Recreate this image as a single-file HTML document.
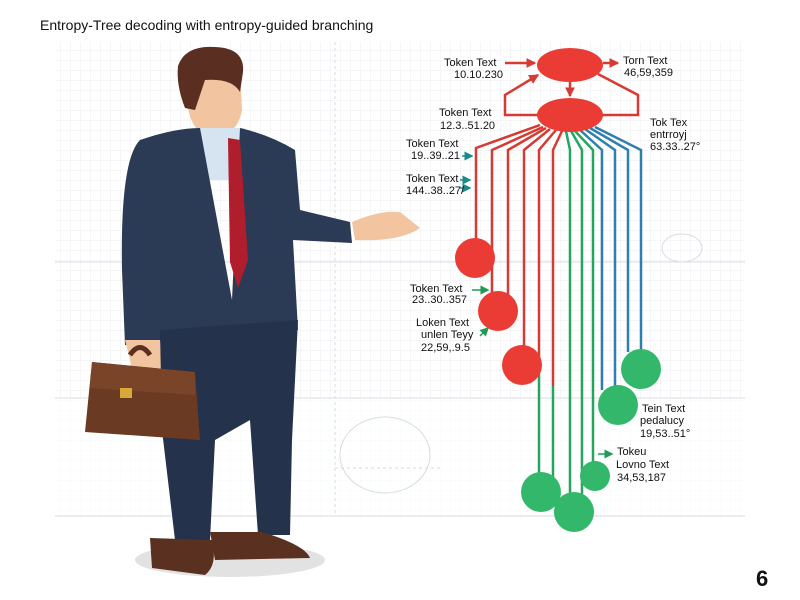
<!DOCTYPE html>
<html><head><meta charset="utf-8"><style>
html,body{margin:0;padding:0;background:#fff;width:800px;height:600px;overflow:hidden}
svg{display:block}
text{font-family:"Liberation Sans",sans-serif;fill:#111}
</style></head><body>
<svg width="800" height="600" viewBox="0 0 800 600" xmlns="http://www.w3.org/2000/svg">
<defs>
<pattern id="g" width="10" height="10" patternUnits="userSpaceOnUse"><path d="M10 0H0V10" fill="none" stroke="#eceef1" stroke-width="1"/></pattern>
<marker id="ar" markerWidth="4" markerHeight="4" refX="3.5" refY="2" orient="auto"><path d="M0 0L4 2L0 4z" fill="#d63a32"/></marker>
<marker id="ag" markerWidth="6" markerHeight="6" refX="5" refY="3" orient="auto"><path d="M0 0L6 3L0 6z" fill="#1f9a57"/></marker>
<marker id="at" markerWidth="6" markerHeight="6" refX="5" refY="3" orient="auto"><path d="M0 0L6 3L0 6z" fill="#1b8a8a"/></marker>
</defs>
<rect x="55" y="42" width="690" height="475" fill="url(#g)"/>
<rect x="55" y="398" width="690" height="118" fill="#fff" opacity="0.6"/>
<g stroke="#d8dbe0" fill="none" stroke-width="1">
<line x1="55" y1="398" x2="745" y2="398"/><line x1="55" y1="516" x2="745" y2="516"/>
<line x1="55" y1="262" x2="745" y2="262"/><line x1="335" y1="42" x2="335" y2="516" stroke-dasharray="3 3"/>
<ellipse cx="385" cy="455" rx="45" ry="38"/><line x1="335" y1="468" x2="440" y2="468" stroke-dasharray="3 3"/>
<ellipse cx="682" cy="248" rx="20" ry="14"/>
</g>
<text x="40" y="30" font-size="14">Entropy-Tree decoding with entropy-guided branching</text>
<text x="756" y="586" font-size="22" font-weight="bold">6</text>

<!-- man -->
<ellipse cx="230" cy="560" rx="95" ry="17" fill="#e2e2e2"/>
<path d="M190 70 Q215 72 240 72 L242 110 Q238 135 212 140 Q192 132 188 108 Z" fill="#f2c4a0"/>
<path d="M178 66 Q185 45 215 47 Q245 48 243 72 L240 92 Q232 78 205 80 L195 110 L185 108 Q176 85 178 66 Z" fill="#5a2f22"/>
<path d="M200 128 L245 128 L255 180 L205 180 Z" fill="#d6e3f0"/>
<path d="M140 140 Q175 128 200 128 L232 300 L240 128 Q270 135 295 150 L300 210 L350 222 L352 243 L293 240 L298 330 L170 335 L160 345 L125 345 L122 270 Q120 160 140 140 Z" fill="#2b3a55"/>
<path d="M228 138 L240 140 L248 260 L238 288 L230 262 Z" fill="#b01e2d"/>
<path d="M352 222 Q380 210 400 212 L420 228 Q400 242 355 240 Z" fill="#f2c4a0"/>
<path d="M125 340 L160 340 L165 375 L135 380 Z" fill="#f2c4a0"/>
<path d="M160 330 L298 320 L292 440 L290 535 L258 535 L250 420 L215 440 L210 540 L175 540 L162 430 Z" fill="#25324c"/>
<path d="M130 355 Q140 340 150 355" stroke="#5a3020" stroke-width="5" fill="none"/>
<path d="M92 362 L195 372 L200 440 L85 432 Z" fill="#6b3a22"/>
<path d="M92 362 L195 372 L195 395 L90 388 Z" fill="#7a4428"/>
<rect x="120" y="388" width="12" height="10" fill="#d8a838"/>
<path d="M150 538 L212 540 Q218 565 205 575 L152 568 Z" fill="#5a3020"/>
<path d="M210 532 L262 532 Q305 545 310 558 L215 560 Z" fill="#5a3020"/>

<!-- diagram -->
<g fill="none" stroke-width="2.5">
<g stroke="#d63a32">
<line x1="505" y1="63" x2="535" y2="63" marker-end="url(#ar)"/>
<line x1="603" y1="63" x2="618" y2="63" marker-end="url(#ar)"/>
<line x1="570" y1="82" x2="570" y2="96" marker-end="url(#ar)"/>
<path d="M538 115 L505 115 L505 95 L538 75" marker-end="url(#ar)"/>
<path d="M602 115 L638 115 L638 95 L598 74"/>
<path d="M540 125 L476 148 L476 240"/>
<path d="M543 127 L492 150 L492 293"/>
<path d="M546 128 L508 150 L508 297"/>
<path d="M550 129 L524 150 L524 346"/>
<path d="M556 130 L539 150 L539 360"/>
<path d="M562 131 L553 150 L553 386"/>
</g>
<g stroke="#25a55f">
<line x1="539" y1="360" x2="539" y2="475"/>
<line x1="553" y1="386" x2="553" y2="480"/>
<path d="M566 131 L570 150 L570 495"/>
<path d="M571 131 L582 150 L582 495"/>
<path d="M575 131 L593 150 L593 464"/>
</g>
<g stroke="#2e7fae">
<path d="M580 130 L602 150 L602 390"/>
<path d="M585 129 L615 150 L615 388"/>
<path d="M590 128 L628 150 L628 352"/>
<path d="M595 127 L641 150 L641 352"/>
</g>
<g stroke-width="1.5">
<line x1="462" y1="156" x2="472" y2="156" stroke="#1b8a8a" marker-end="url(#at)"/>
<line x1="460" y1="180" x2="470" y2="180" stroke="#1b8a8a" marker-end="url(#at)"/>
<line x1="460" y1="188" x2="470" y2="188" stroke="#1b8a8a" marker-end="url(#at)"/>
<line x1="472" y1="290" x2="488" y2="290" stroke="#1f9a57" marker-end="url(#ag)"/>
<line x1="480" y1="336" x2="488" y2="328" stroke="#1f9a57" marker-end="url(#ag)"/>
<line x1="598" y1="454" x2="612" y2="454" stroke="#1f9a57" marker-end="url(#ag)"/>
</g>
</g>
<g fill="#ea3b34">
<ellipse cx="570" cy="65" rx="33" ry="17"/>
<ellipse cx="570" cy="115" rx="33" ry="17"/>
<circle cx="475" cy="258" r="20"/>
<circle cx="498" cy="311" r="20"/>
<circle cx="522" cy="365" r="20"/>
</g>
<g fill="#33b86b">
<circle cx="541" cy="492" r="20"/>
<circle cx="574" cy="512" r="20"/>
<circle cx="595" cy="476" r="15"/>
<circle cx="618" cy="405" r="20"/>
<circle cx="641" cy="369" r="20"/>
</g>
<g font-size="11">
<text x="444" y="66">Token Text</text><text x="454" y="78">10.10.230</text>
<text x="623" y="64">Torn Text</text><text x="624" y="76">46,59,359</text>
<text x="439" y="116">Token Text</text><text x="440" y="129">12.3..51.20</text>
<text x="650" y="126">Tok Tex</text><text x="650" y="138">entrroyj</text><text x="650" y="150">63.33..27°</text>
<text x="406" y="147">Token Text</text><text x="411" y="159">19..39..21</text>
<text x="406" y="182">Token Text</text><text x="406" y="194">144..38..27/</text>
<text x="410" y="292">Token Text</text><text x="412" y="303">23..30..357</text>
<text x="416" y="326">Loken Text</text><text x="421" y="338">unlen Teyy</text><text x="421" y="351">22,59,.9.5</text>
<text x="642" y="412">Tein Text</text><text x="640" y="424">pedalucy</text><text x="640" y="437">19,53..51°</text>
<text x="617" y="455">Tokeu</text><text x="616" y="468">Lovno Text</text><text x="617" y="481">34,53,187</text>
</g>
</svg>
</body></html>
